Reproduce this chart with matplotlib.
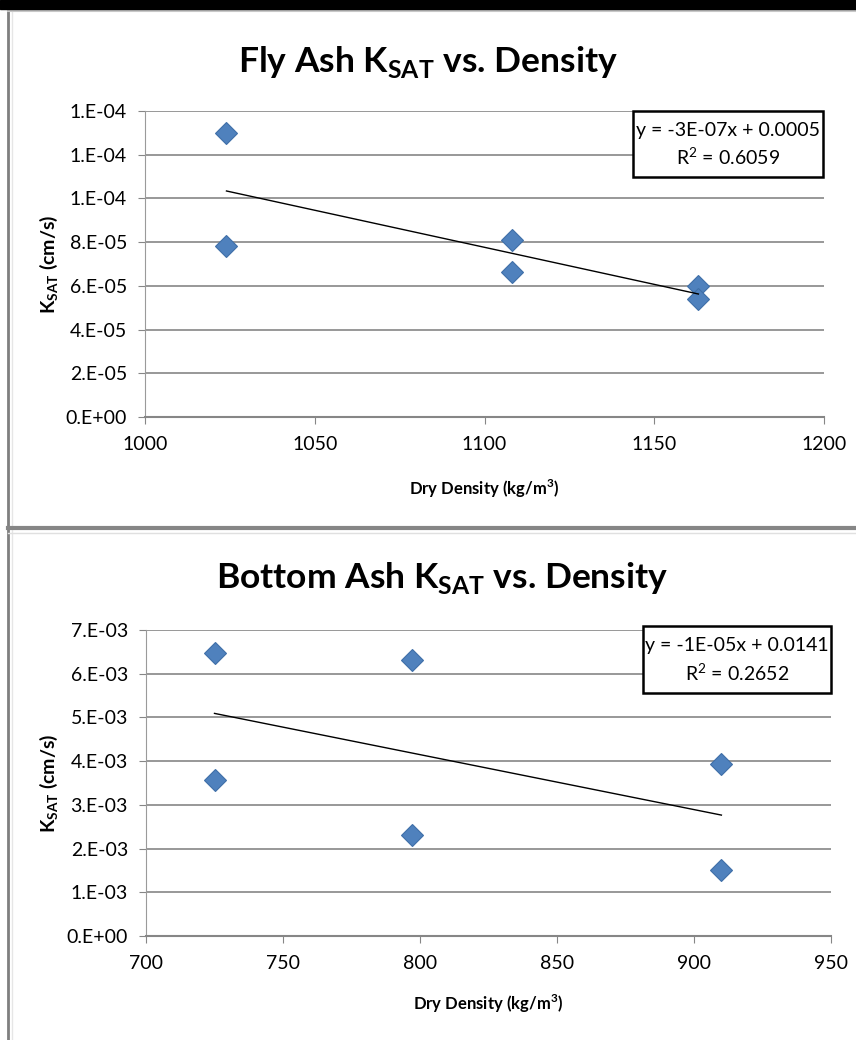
import numpy as np
import matplotlib
matplotlib.use("Agg")
import matplotlib.pyplot as plt
from matplotlib.lines import Line2D
from matplotlib.patches import Rectangle
from matplotlib.ticker import FuncFormatter

FONT = ['Lato', 'DejaVu Sans']
plt.rcParams['font.family'] = FONT
plt.rcParams['mathtext.fontset'] = 'custom'
plt.rcParams['mathtext.rm'] = 'Lato:weight=bold'
plt.rcParams['mathtext.bf'] = 'Lato:weight=bold'
plt.rcParams['mathtext.sf'] = 'Lato'

# fly ash data
fly_density = [1024, 1024, 1108, 1108, 1163, 1163]
fly_ksat = [1.298e-4, 7.81e-5, 8.08e-5, 6.63e-5, 6.00e-5, 5.42e-5]
fly_eq = ["y = -3E-07x + 0.0005", r"R$^{\mathsf{2}}$ = 0.6059"]

# bottom ash data
bot_density = [725, 725, 797, 797, 910, 910]
bot_ksat = [6.48e-3, 3.56e-3, 6.31e-3, 2.30e-3, 3.93e-3, 1.51e-3]
bot_eq = ["y = -1E-05x + 0.0141", r"R$^{\mathsf{2}}$ = 0.2652"]

W, H = 856, 1040
fig = plt.figure(figsize=(W / 100, H / 100), dpi=100)


def px(x0, y0, x1, y1):
    # pixel box -> figure fraction [left, bottom, width, height]
    return [x0 / W, 1 - y1 / H, (x1 - x0) / W, (y1 - y0) / H]


def excel_fmt(v, pos):
    m, e = ("%.0e" % v).split('e')
    return m + ".E" + e


def panel(rect, x, y, xlim, ylim, ystep, eq, box, title, title_xy, xlab_y):
    ax = fig.add_axes(px(*rect))
    aw = rect[2] - rect[0]
    ah = rect[3] - rect[1]
    ax.set_xlim(*xlim)
    ax.set_ylim(*ylim)
    ax.set_xticks(np.arange(xlim[0], xlim[1] + 1, 50))
    ax.set_yticks(np.arange(0, ylim[1] + ystep / 2, ystep))
    ax.yaxis.set_major_formatter(FuncFormatter(excel_fmt))
    ax.grid(axis='y', color='#868686', lw=1.2)
    ax.set_axisbelow(True)
    for s in ['top', 'right']:
        ax.spines[s].set_visible(False)
    ax.spines['left'].set_color('#9a9a9a')
    ax.spines['bottom'].set_color('#868686')
    ax.spines['bottom'].set_linewidth(1.5)
    ax.tick_params(colors='#868686', labelcolor='black', labelsize=14,
                   length=5, direction='out')
    ax.tick_params(axis='y', pad=8)
    ax.tick_params(axis='x', pad=9)

    ax.plot(x, y, ls='none', marker='D', ms=11.5, color='#4F81BD',
            mec='#3f6fa8', mew=0.8, zorder=3)
    k, b = np.polyfit(x, y, 1)
    xs = np.array([min(x), max(x)])
    ax.plot(xs, k * xs + b, color='black', lw=1, zorder=4)

    # equation box (pixel coords of the box)
    bx0, by0, bx1, by1 = box
    fx0 = (bx0 - rect[0]) / aw
    fx1 = (bx1 - rect[0]) / aw
    fy0 = (rect[3] - by1) / ah
    fy1 = (rect[3] - by0) / ah
    ax.add_patch(Rectangle((fx0, fy0), fx1 - fx0, fy1 - fy0, transform=ax.transAxes,
                           fc='white', ec='black', lw=1.8, zorder=5, clip_on=False))
    cx = (fx0 + fx1) / 2
    ax.text(cx, fy0 + (fy1 - fy0) * 0.71, eq[0], transform=ax.transAxes,
            ha='center', va='center', fontsize=14, zorder=6)
    ax.text(cx, fy0 + (fy1 - fy0) * 0.30, eq[1], transform=ax.transAxes,
            ha='center', va='center', fontsize=14, zorder=6)

    ax.set_ylabel(r"K$_{\mathrm{SAT}}$ (cm/s)", fontsize=14, fontweight='bold')
    ax.yaxis.set_label_coords(-0.125, 0.5)
    ax.set_xlabel(r"Dry Density (kg/m$^{\mathrm{3}}$)", fontsize=12, fontweight='bold')
    ax.xaxis.set_label_coords(0.5, -(xlab_y - 9 - rect[3]) / ah)

    fig.text(title_xy[0] / W, 1 - title_xy[1] / H, title, ha='center',
             va='center', fontsize=25.5, fontweight='bold')
    return ax


panel((145, 111, 824, 417), fly_density, fly_ksat, (1000, 1200),
      (0, 1.4e-4), 2e-5, fly_eq, (633, 111, 823, 177),
      r"Fly Ash K$_{\mathrm{SAT}}$ vs. Density", (428, 62), 487)

panel((146, 630, 831, 936), bot_density, bot_ksat, (700, 950),
      (0, 7e-3), 1e-3, bot_eq, (643, 626, 831, 693),
      r"Bottom Ash K$_{\mathrm{SAT}}$ vs. Density", (442, 578), 1002)

# frame bits: black strip on top, panel borders
fig.add_artist(Rectangle((0, 1 - 9 / H), 1, 9 / H, transform=fig.transFigure,
                         color='black', zorder=10))
fig.add_artist(Line2D([8 / W, 8 / W], [0, 1 - 9 / H], transform=fig.transFigure,
                      color='#7f7f7f', lw=2))
fig.add_artist(Line2D([12 / W, 12 / W], [0, 1 - 12 / H], transform=fig.transFigure,
                      color='#e6e6e6', lw=1))
fig.add_artist(Line2D([8 / W, 1], [1 - 11 / H, 1 - 11 / H], transform=fig.transFigure,
                      color='#c8c8c8', lw=1.5))
fig.add_artist(Line2D([8 / W, 1], [1 - 528 / H, 1 - 528 / H], transform=fig.transFigure,
                      color='#868686', lw=3))
fig.add_artist(Line2D([8 / W, 1], [1 - 533 / H, 1 - 533 / H], transform=fig.transFigure,
                      color='#e0e0e0', lw=1))

fig.savefig("out.png", dpi=100)
